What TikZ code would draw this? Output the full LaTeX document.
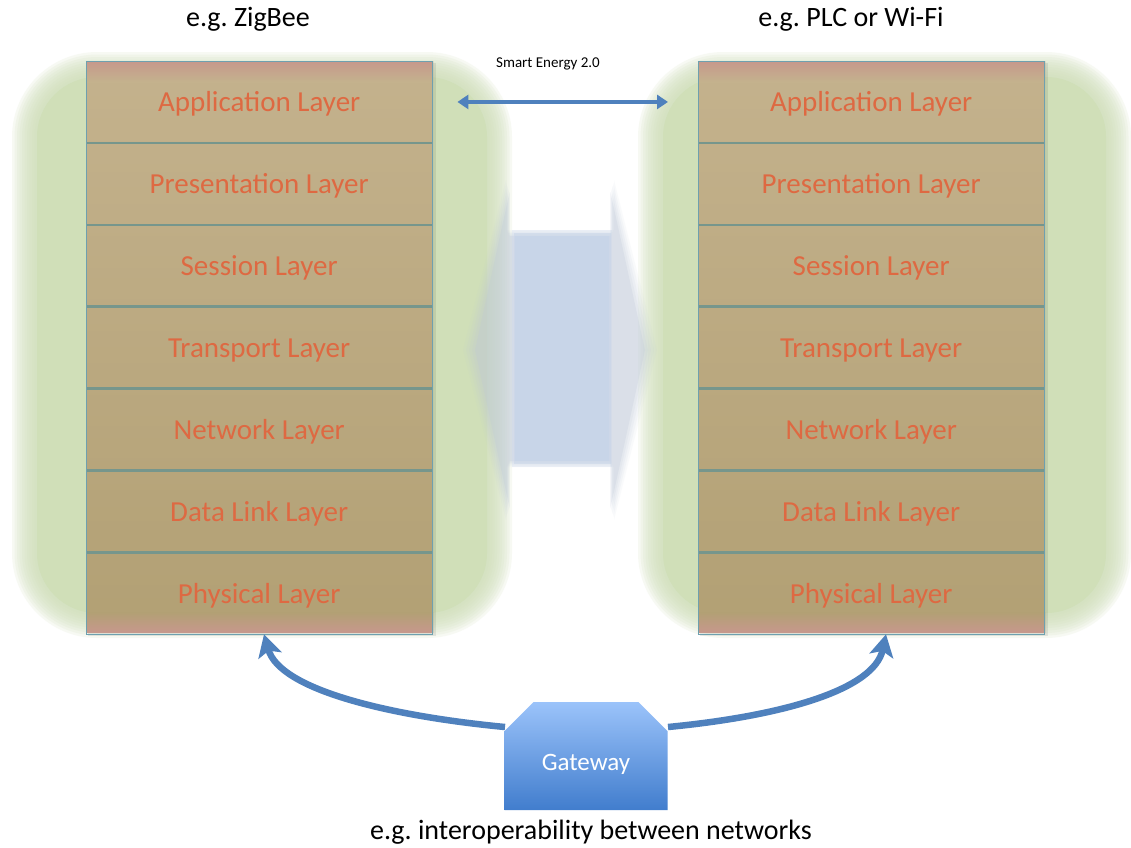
\documentclass[tikz,border=0pt]{standalone}
\usepackage{fontspec}
\setmainfont{Carlito}
\frenchspacing
\usetikzlibrary{arrows.meta,shapes.misc,calc}
\definecolor{panelgreen}{RGB}{208,223,184}
\definecolor{layertext}{RGB}{222,105,66}
\definecolor{tantop}{RGB}{196,178,141}
\definecolor{tanbot}{RGB}{178,160,116}
\definecolor{pinkedge}{RGB}{198,152,140}
\definecolor{sepline}{RGB}{118,150,140}
\definecolor{stackborder}{RGB}{110,160,175}
\definecolor{arrowblue}{RGB}{79,129,189}
\definecolor{centerblue}{RGB}{200,213,232}
\definecolor{gwtop}{RGB}{155,195,250}
\definecolor{gwbot}{RGB}{65,125,205}
\tikzset{
  layerbox/.style={minimum width=346pt,minimum height=81.5pt,inner sep=0pt,
    text height=26pt,text depth=6pt,
    text=layertext,font=\fontsize{29}{34}\selectfont},
  titletext/.style={font=\fontsize{28}{33}\selectfont,text=black,inner sep=0pt},
  bigarrow/.style={draw=arrowblue,line width=6.5pt,
    -{Stealth[width=24pt,length=22pt,inset=5pt]}},
  sepstyle/.style={draw=sepline,line width=2.5pt},
}
\begin{document}
\begin{tikzpicture}[x=1pt,y=-1pt]
\useasboundingbox (0,0) rectangle (1131,847);
\fill[white] (0,0) rectangle (1131,847);
% green panels with soft edges
\foreach \xa/\xb in {12/512,638/1131}{
  \foreach \o in {0,2.5,...,22.5}{
    \fill[panelgreen,opacity=0.16,rounded corners=85-\o]
      (\xa+\o,52+\o) rectangle (\xb-\o,638-\o);
  }
  \fill[panelgreen,rounded corners=60] (\xa+25,77) rectangle (\xb-25,613);
}
% central blurred double block arrow (over the panels, faint)
\foreach \o/\op in {0/0.08,3/0.1,6/0.12,9/0.15,12/0.25}{
  \fill[centerblue!85!gray,opacity=\op]
    (463+\o,350) -- (506+\o*0.3,180+\o) -- (506+\o*0.3,230+\o*0.5) -- (614-\o*0.3,230+\o*0.5)
    -- (614-\o*0.3,180+\o) -- (657-\o,350) -- (614-\o*0.3,520-\o) -- (614-\o*0.3,467-\o*0.5)
    -- (506+\o*0.3,467-\o*0.5) -- (506+\o*0.3,520-\o) -- cycle;
}
\foreach \o/\op in {0/0.3,3/0.5,6/1}{
  \fill[centerblue,opacity=\op] (512+\o*0.5,230+\o) rectangle (612-\o*0.5,467-\o);
}
% stacks background
\foreach \xa in {86,698}{
  \fill[black,opacity=0.08] (\xa+2,63) rectangle (\xa+350,636);
  \shade[top color=tantop,bottom color=tanbot] (\xa,61) rectangle (\xa+347,632);
  \shade[top color=pinkedge,bottom color=tantop] (\xa,61) rectangle (\xa+347,82);
  \shade[top color=tanbot,bottom color=pinkedge] (\xa,612) rectangle (\xa+347,632);
}
% left stack layers
\node[layerbox,anchor=north west] (lapp) at (86,61) {Application Layer};
\node[layerbox,anchor=north] (lpre) at (lapp.south) {Presentation Layer};
\node[layerbox,anchor=north] (lses) at (lpre.south) {Session Layer};
\node[layerbox,anchor=north] (ltra) at (lses.south) {Transport Layer};
\node[layerbox,anchor=north] (lnet) at (ltra.south) {Network Layer};
\node[layerbox,anchor=north] (ldat) at (lnet.south) {Data Link Layer};
\node[layerbox,anchor=north] (lphy) at (ldat.south) {Physical Layer};
% right stack layers
\node[layerbox,anchor=north west] (rapp) at (698,61) {Application Layer};
\node[layerbox,anchor=north] (rpre) at (rapp.south) {Presentation Layer};
\node[layerbox,anchor=north] (rses) at (rpre.south) {Session Layer};
\node[layerbox,anchor=north] (rtra) at (rses.south) {Transport Layer};
\node[layerbox,anchor=north] (rnet) at (rtra.south) {Network Layer};
\node[layerbox,anchor=north] (rdat) at (rnet.south) {Data Link Layer};
\node[layerbox,anchor=north] (rphy) at (rdat.south) {Physical Layer};
% separators
\foreach \a/\b in {lapp/lpre,lpre/lses,lses/ltra,ltra/lnet,lnet/ldat,ldat/lphy,
                   rapp/rpre,rpre/rses,rses/rtra,rtra/rnet,rnet/rdat,rdat/rphy}{
  \draw[sepstyle] (\a.south west) -- (\a.south east);
}
\draw[stackborder,line width=0.8pt] (lapp.north west) rectangle (lphy.south east);
\draw[stackborder,line width=0.8pt] (rapp.north west) rectangle (rphy.south east);
% titles
\node[titletext] (ttl) at (248,19) {e.g. ZigBee};
\node[titletext] (ttr) at (851,19) {e.g. PLC or Wi-Fi};
\node[font=\fontsize{15}{18}\selectfont,inner sep=0pt] (se) at (548,64) {Smart Energy 2.0};
% Smart Energy arrow
\draw[arrowblue,line width=4pt,{Triangle[width=14pt,length=11pt]}-{Triangle[width=14pt,length=11pt]},
  shorten <=25pt,shorten >=30pt] (lapp.east) -- (rapp.west);
% gateway
\node[chamfered rectangle,chamfered rectangle corners={north west,north east},
  chamfered rectangle xsep=15pt,chamfered rectangle ysep=14pt,
  minimum width=163pt,minimum height=108pt,inner sep=0pt,
  text height=30pt,text depth=1pt,
  top color=gwtop,bottom color=gwbot,draw=none,
  text=white,font=\fontsize{25}{30}\selectfont] (gw) at (586,756) {Gateway};
\coordinate (gwl) at (505,727);
\coordinate (gwr) at (668,727);
\draw[bigarrow] (gwl) .. controls (390,716) and (280,690) .. (lphy.south -| 264,0);
\draw[bigarrow] (gwr) .. controls (782,716) and (874,690) .. (rphy.south -| 886,0);
\node[titletext] (bottom) at (591,832) {e.g. interoperability between networks};
\end{tikzpicture}
\end{document}
